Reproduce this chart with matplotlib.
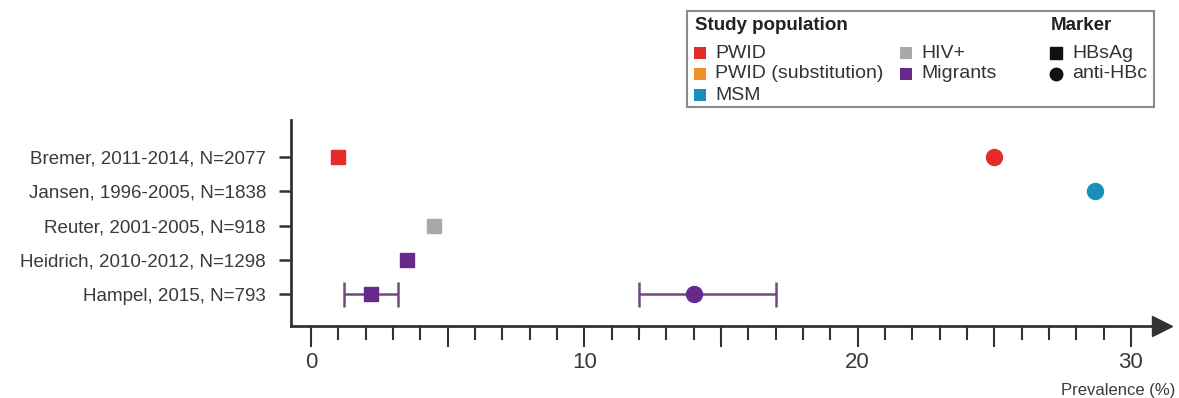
import numpy as np
import matplotlib
matplotlib.use('Agg')
import matplotlib.pyplot as plt
from matplotlib.patches import Rectangle
from matplotlib.lines import Line2D

plt.rcParams['font.family'] = ['Liberation Sans', 'DejaVu Sans']

# data
studies = ['Bremer, 2011-2014, N=2077', 'Jansen, 1996-2005, N=1838',
           'Reuter, 2001-2005, N=918', 'Heidrich, 2010-2012, N=1298',
           'Hampel, 2015, N=793']
population = ['PWID', 'MSM', 'HIV+', 'Migrants', 'Migrants']
hbsag = [1.0, np.nan, 4.5, 3.5, 2.2]
hbsag_lo = [np.nan, np.nan, np.nan, np.nan, 1.2]
hbsag_hi = [np.nan, np.nan, np.nan, np.nan, 3.2]
antihbc = [25.0, 28.7, np.nan, np.nan, 14.0]
antihbc_lo = [np.nan, np.nan, np.nan, np.nan, 12.0]
antihbc_hi = [np.nan, np.nan, np.nan, np.nan, 17.0]

pop_names = ['PWID', 'PWID (substitution)', 'MSM', 'HIV+', 'Migrants']
pop_colors = {'PWID': '#e32d2a', 'PWID (substitution)': '#f0902c',
              'MSM': '#1a8fb8', 'HIV+': '#a9a9a9', 'Migrants': '#67298c'}

axis_col = '#333333'
err_col = '#6e4a80'

fig = plt.figure(figsize=(11.79, 3.98), dpi=100)
ax = fig.add_axes([291/1179, 1-326/398, (1162-291)/1179, (326-120)/398])

ypos = np.arange(len(studies), 0, -1)

for i in range(len(studies)):
    c = pop_colors[population[i]]
    if not np.isnan(hbsag[i]):
        if not np.isnan(hbsag_lo[i]):
            ax.errorbar(hbsag[i], ypos[i],
                        xerr=[[hbsag[i]-hbsag_lo[i]], [hbsag_hi[i]-hbsag[i]]],
                        fmt='none', ecolor=err_col, elinewidth=1.8, capsize=9, capthick=1.8)
        ax.plot(hbsag[i], ypos[i], 's', color=c, markersize=10.5, zorder=3)
    if not np.isnan(antihbc[i]):
        if not np.isnan(antihbc_lo[i]):
            ax.errorbar(antihbc[i], ypos[i],
                        xerr=[[antihbc[i]-antihbc_lo[i]], [antihbc_hi[i]-antihbc[i]]],
                        fmt='none', ecolor=err_col, elinewidth=1.8, capsize=9, capthick=1.8)
        ax.plot(antihbc[i], ypos[i], 'o', color=c, markersize=11.5, zorder=3)

ax.set_xlim(-0.73, (1162-311)/27.33)
ax.set_ylim(0.066, 6.08)

ax.spines['top'].set_visible(False)
ax.spines['right'].set_visible(False)
for s in ['left', 'bottom']:
    ax.spines[s].set_color(axis_col)
    ax.spines[s].set_linewidth(2)

ax.set_yticks(ypos)
ax.set_yticklabels(studies, fontsize=13.5, color='#3a3a3a')
ax.tick_params(axis='y', length=9, width=1.8, color=axis_col, pad=9)

ax.set_xticks(np.arange(0, 31, 5))
ax.set_xticklabels([str(v) if v % 10 == 0 else '' for v in range(0, 31, 5)],
                   fontsize=16, color='#3a3a3a')
ax.set_xticks(np.arange(0, 31, 1), minor=True)
ax.tick_params(axis='x', which='major', length=15, width=1.5, color=axis_col, pad=4)
ax.tick_params(axis='x', which='minor', length=10, width=1.5, color=axis_col)

# arrow head at the end of the x axis
ax.plot(1, 0, '>', color=axis_col, markersize=14, transform=ax.transAxes, clip_on=False)

fig.text(1175/1179, 1-390/398, 'Prevalence (%)', ha='right', va='center',
         fontsize=12, color='#3a3a3a')

# legend box
fig.add_artist(Rectangle((687/1179, 1-107/398), (1154-687)/1179, (107-11)/398,
                         transform=fig.transFigure, fill=False, edgecolor='#8a8a8a', lw=1.5))
fig.text(695/1179, 1-25/398, 'Study population', fontsize=13.5, fontweight='bold',
         va='center', color='#222222')
fig.text(1051/1179, 1-25/398, 'Marker', fontsize=13.5, fontweight='bold',
         va='center', color='#222222')

leg_pos = {'PWID': (694, 53), 'PWID (substitution)': (694, 74), 'MSM': (694, 95),
           'HIV+': (900, 53), 'Migrants': (900, 74)}
for name in pop_names:
    px, py = leg_pos[name]
    fig.add_artist(Rectangle((px/1179, 1-(py+6)/398), 12/1179, 12/398,
                             transform=fig.transFigure, color=pop_colors[name], lw=0))
    fig.text((px+21)/1179, 1-py/398, name, fontsize=14, va='center', color='#333333')

fig.add_artist(Line2D([1056/1179], [1-53/398], marker='s', markersize=8.5, color='#111111',
                      transform=fig.transFigure))
fig.add_artist(Line2D([1056/1179], [1-74/398], marker='o', markersize=9, color='#111111',
                      transform=fig.transFigure))
fig.text(1072/1179, 1-53/398, 'HBsAg', fontsize=14, va='center', color='#333333')
fig.text(1072/1179, 1-74/398, 'anti-HBc', fontsize=14, va='center', color='#333333')

fig.savefig('out.png', dpi=100)
